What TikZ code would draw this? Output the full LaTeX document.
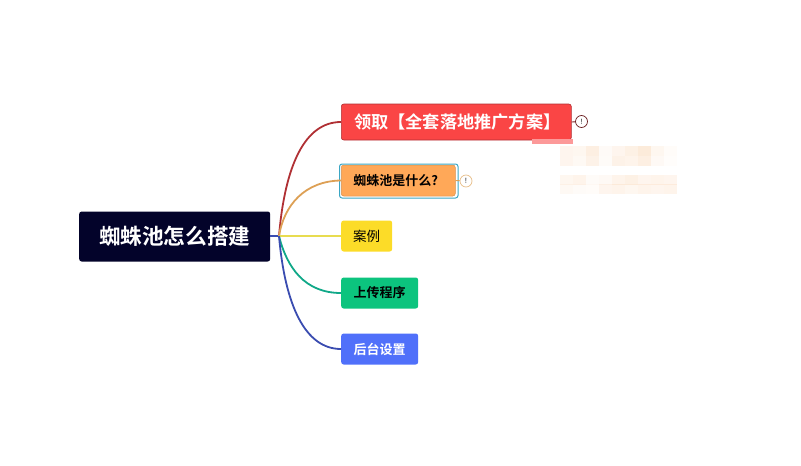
\documentclass[tikz,border=0pt]{standalone}
\usepackage{fontspec}
\setmainfont{Noto Sans CJK SC}[BoldFont={Noto Sans CJK SC Bold}]
\definecolor{rootc}{HTML}{03032A}
\definecolor{redc}{HTML}{FA4545}
\definecolor{redl}{HTML}{B03034}
\definecolor{orc}{HTML}{FFA858}
\definecolor{orl}{HTML}{DDA055}
\definecolor{yec}{HTML}{FCDC28}
\definecolor{yel}{HTML}{E8DC50}
\definecolor{grc}{HTML}{0CC47E}
\definecolor{grl}{HTML}{10A888}
\definecolor{blc}{HTML}{5070FA}
\definecolor{bll}{HTML}{3A4CB0}
\definecolor{selc}{HTML}{3AA6C4}
\definecolor{blurc}{HTML}{F5B070}
\tikzset{
 box/.style={rectangle,rounded corners=2.5pt,inner sep=0pt,font=\bfseries,anchor=west},
 link/.style={line width=1.8pt},
 warn/.style={circle,draw,line width=0.7pt,fill=white,minimum size=12pt,inner sep=0pt,font=\fontsize{7}{7}\selectfont},
 stub/.style={line width=0.9pt}
}
\begin{document}
\begin{tikzpicture}[x=1pt,y=-1pt]
\useasboundingbox (0,0) rectangle (801,466);
% blurred patch
\foreach \x/\y/\o in {560/146/.12,573/146/.1,586/146/.2,599/146/.06,612/146/.12,625/146/.18,638/146/.26,651/146/.1,664/146/.04,
560/156/.12,573/156/.08,586/156/.16,599/156/.05,612/156/.16,625/156/.14,638/156/.2,651/156/.07,664/156/.03,
560/175/.1,573/175/.14,586/175/.05,599/175/.07,612/175/.14,625/175/.18,638/175/.12,651/175/.14,664/175/.12,
560/184/.08,573/184/.05,586/184/.04,599/184/.12,612/184/.14,625/184/.1,638/184/.14,651/184/.12,664/184/.14}{
 \fill[blurc,opacity=\o] (\x,\y) rectangle ++(13,9.5);
}
\coordinate (hub) at (279,236);
\node[box,fill=rootc,text=white,minimum width=191pt,minimum height=50pt,font=\bfseries\fontsize{21.6}{22}\selectfont] (root) at (79,236.5) {蜘蛛池怎么搭建};
\node[box,fill=redc,draw=redl,line width=.6pt,text=white,minimum width=230pt,minimum height=36pt,font=\bfseries\fontsize{17.2}{18}\selectfont] (n1) at (341,122) {\kern2pt 领取【全套落地推广方案】};
\node[box,fill=orc,draw=orc!85!black,line width=.5pt,text=black,minimum width=114pt,minimum height=31pt,font=\bfseries\fontsize{13}{14}\selectfont] (n2) at (341,180.5) {蜘蛛池是什么?\kern5pt};
\draw[selc,line width=1pt,rounded corners=2.5pt] (339.5,164) rectangle (458,198);
\node[box,fill=yec,text=black,minimum width=51pt,minimum height=31pt,font=\fontsize{13.5}{14}\selectfont] (n3) at (341,236) {案例};
\node[box,fill=grc,text=black,minimum width=77pt,minimum height=31pt,font=\bfseries\fontsize{13}{14}\selectfont] (n4) at (341,293) {上传程序};
\node[box,fill=blc,text=white,minimum width=77pt,minimum height=31pt,font=\bfseries\fontsize{13}{14}\selectfont] (n5) at (341,349) {后台设置};
\node[warn,draw=redl!60!black] (w1) at (581.5,121.5) {!};
\node[warn,draw=orl!70] (w2) at (466,181) {!};
\fill[redc!55] (532,138.5) rectangle (573,144);
\draw[stub,draw=redl!70!black] (n1.east) -- (w1);
\draw[stub,draw=orl] (n2.east) -- (w2);
\draw[link,bll] (root.east |- hub) -- (hub);
\draw[link,redl] (hub) .. controls (285,165) and (305,122) .. (n1.west);
\draw[link,orl] (hub) .. controls (284,205) and (305,181) .. (n2.west);
\draw[link,yel] (hub) -- (n3.west);
\draw[link,grl] (hub) .. controls (287,268) and (305,293) .. (n4.west);
\draw[link,bll] (hub) .. controls (285,305) and (305,349) .. (n5.west);
\end{tikzpicture}
\end{document}
